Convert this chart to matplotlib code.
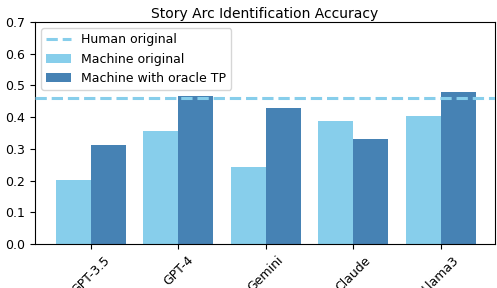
import numpy as np
import matplotlib
matplotlib.use('Agg')
from matplotlib import pyplot as plt

models = ['GPT-3.5', 'GPT-4', 'Gemini', 'Claude', 'Llama3']
machine_original = [0.202, 0.356, 0.243, 0.388, 0.404]
machine_oracle_tp = [0.312, 0.467, 0.429, 0.331, 0.480]
human_original = 0.46

fig = plt.figure(figsize=(4.97, 2.88), dpi=100)
ax = fig.add_axes([35 / 497, 1 - 244 / 288, 460 / 497, 222 / 288])

x = np.arange(len(models))
width = 0.4
ax.axhline(human_original, color='skyblue', linestyle='--', linewidth=2.2, label='Human original', zorder=3)
ax.bar(x - width / 2, machine_original, width, color='skyblue', label='Machine original')
ax.bar(x + width / 2, machine_oracle_tp, width, color='steelblue', label='Machine with oracle TP')

ax.set_ylim(0, 0.7)
ax.set_xlim(-0.64, 4.62)
ax.set_xticks(x)
ax.set_xticklabels(models, rotation=45, fontsize=9)
ax.tick_params(axis='y', labelsize=9)
ax.set_title('Story Arc Identification Accuracy', fontsize=10, pad=3)
ax.legend(loc='upper left', fontsize=9)

fig.savefig('out.png', dpi=100)
